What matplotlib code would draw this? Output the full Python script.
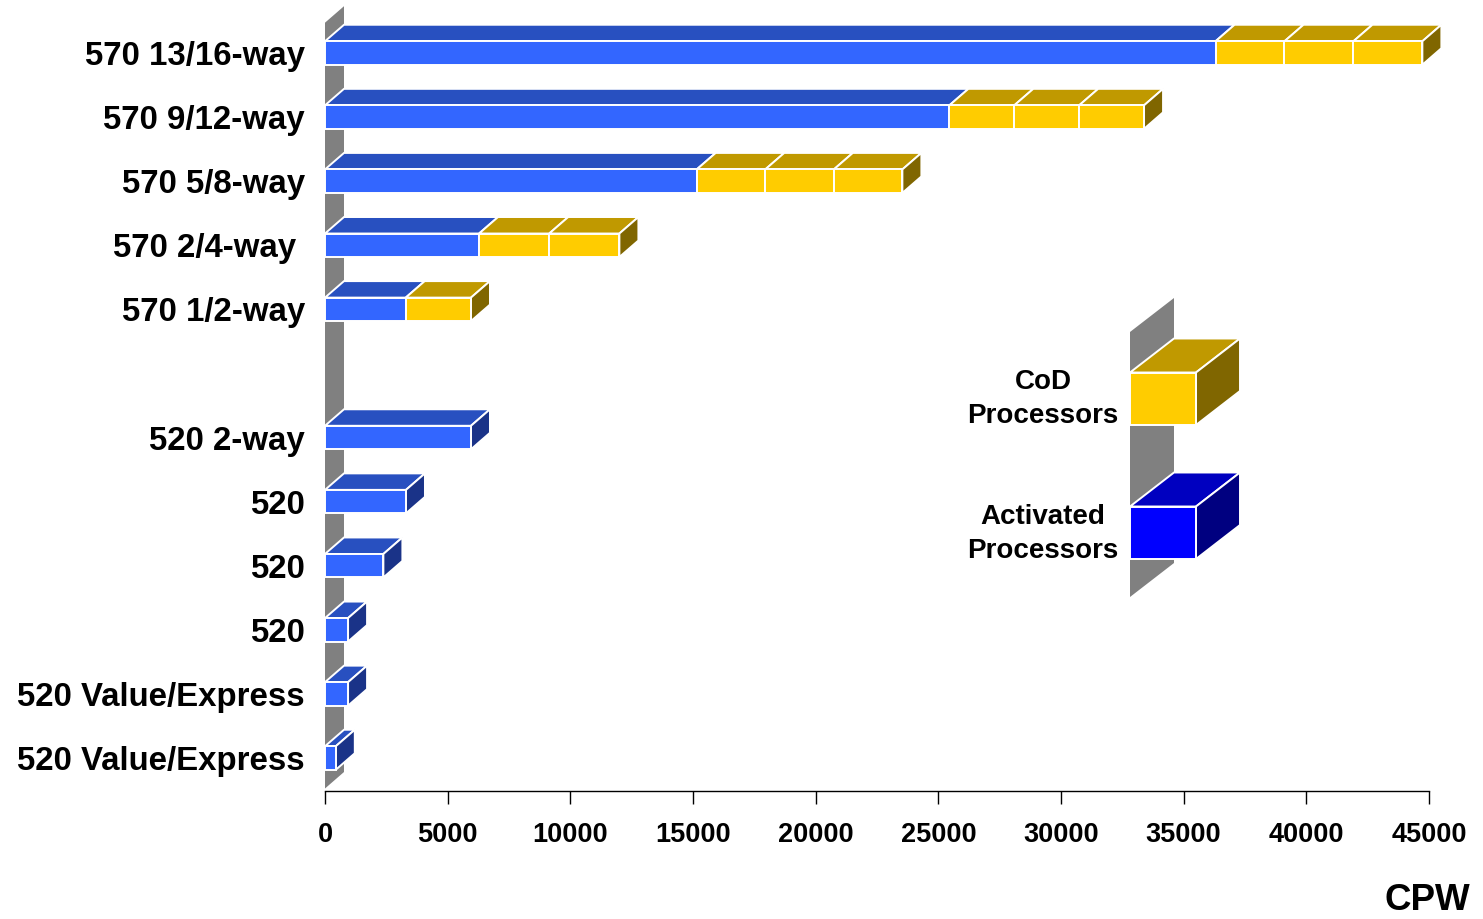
import matplotlib
matplotlib.use("Agg")
import matplotlib.pyplot as plt
from matplotlib.patches import Polygon

plt.rcParams['font.family'] = ['Liberation Sans', 'DejaVu Sans']
plt.rcParams['font.weight'] = 'bold'

# ---- data -------------------------------------------------------------
categories = ["570 13/16-way", "570 9/12-way", "570 5/8-way", "570 2/4-way ",
              "570 1/2-way", "520 2-way", "520", "520", "520",
              "520 Value/Express", "520 Value/Express"]
row_pos = [0, 1, 2, 3, 4, 6, 7, 8, 9, 10, 11]
activated_cpw = [36300, 25450, 15150, 6280, 3290, 5950, 3300, 2380, 940, 940, 440]
cod_procs = [3, 3, 3, 2, 1, 0, 0, 0, 0, 0, 0]
cod_cpw_per_proc = [2810, 2645, 2795, 2860, 2660, 0, 0, 0, 0, 0, 0]
x_ticks = [0, 5000, 10000, 15000, 20000, 25000, 30000, 35000, 40000, 45000]

# ---- styling ----------------------------------------------------------
BLUE = ("#3366FF", "#2850C0", "#1A3388")      # front, top, side
GOLD = ("#FFCC00", "#C09900", "#806600")
LEG_BLUE = ("#0000FF", "#0000C0", "#000080")
WALL = "#808080"
EDGE = "white"
LW = 1.4

W, H = 1483, 919
fig = plt.figure(figsize=(W / 100, H / 100), dpi=100)
fig.patch.set_facecolor("white")

ax_left, ax_right, ax_bottom = 325, 1429, 790.7
ax = fig.add_axes([ax_left / W, (H - ax_bottom) / H,
                   (ax_right - ax_left) / W, ax_bottom / H])
ax.set_xlim(0, 45000)
row_px = 64.09
ax.set_ylim((ax_bottom - 53) / row_px, -53 / row_px)

# depth of the pseudo-3D extrusion, in data units
px_per_x = (ax_right - ax_left) / 45000
DX = 19 / px_per_x
DY = 16.5 / row_px
BAR_H = 23.5 / row_px


def top_face(x0, x1, yt, color):
    return Polygon([(x0, yt), (x1, yt), (x1 + DX, yt - DY), (x0 + DX, yt - DY)],
                   closed=True, facecolor=color, edgecolor=EDGE, lw=LW,
                   joinstyle="miter", zorder=3, clip_on=False)


def side_face(x1, yt, yb, color):
    return Polygon([(x1, yt), (x1 + DX, yt - DY), (x1 + DX, yb - DY), (x1, yb)],
                   closed=True, facecolor=color, edgecolor=EDGE, lw=LW,
                   joinstyle="miter", zorder=3, clip_on=False)


def front_face(x0, x1, yt, yb, color):
    return Polygon([(x0, yt), (x1, yt), (x1, yb), (x0, yb)],
                   closed=True, facecolor=color, edgecolor=EDGE, lw=LW,
                   joinstyle="miter", zorder=4, clip_on=False)


# back wall along the value axis origin
wall_top = (22.7 - 53) / row_px
wall_bot = (788.5 - 53) / row_px
ax.add_patch(Polygon([(0, wall_bot), (0, wall_top), (DX, wall_top - DY),
                      (DX, wall_bot - DY)], closed=True, facecolor=WALL,
                     edgecolor="none", zorder=1, clip_on=False))

for y, act, n, per in zip(row_pos, activated_cpw, cod_procs, cod_cpw_per_proc):
    yt, yb = y - BAR_H / 2, y + BAR_H / 2
    segs = [(0, act, BLUE)]
    start = act
    for _ in range(n):
        segs.append((start, start + per, GOLD))
        start += per
    for x0, x1, c in segs:
        ax.add_patch(top_face(x0, x1, yt, c[1]))
        ax.add_patch(front_face(x0, x1, yt, yb, c[0]))
    x_end, c_end = segs[-1][1], segs[-1][2]
    ax.add_patch(side_face(x_end, yt, yb, c_end[2]))

# axes decoration
for s in ("top", "right", "left"):
    ax.spines[s].set_visible(False)
ax.spines["bottom"].set_linewidth(1.0)
ax.set_facecolor("none")
ax.set_xticks(x_ticks)
ax.set_xticklabels([str(t) for t in x_ticks], fontsize=19.5, fontweight="bold")
ax.tick_params(axis="x", direction="out", length=9, width=1.0, pad=13.5)
ax.set_yticks(row_pos)
ax.set_yticklabels(categories, fontsize=23.8, fontweight="bold")
ax.tick_params(axis="y", length=0, pad=14.4)

fig.text(1470 / W, 1 - 900 / H, "CPW", ha="right", va="center",
         fontsize=26.5, fontweight="bold")

# ---- legend (pixel coordinates overlay) -------------------------------
lax = fig.add_axes([0, 0, 1, 1], zorder=5)
lax.set_xlim(0, W)
lax.set_ylim(H, 0)
lax.axis("off")
ldx, ldy = 44, 34
lax.add_patch(Polygon([(1130, 597), (1130, 332), (1130 + ldx, 332 - ldy),
                       (1130 + ldx, 597 - ldy)], closed=True,
                      facecolor=WALL, edgecolor="none"))


def legend_cube(y0, y1, cols):
    x0, x1 = 1130, 1196
    lax.add_patch(Polygon([(x0, y0), (x1, y0), (x1 + ldx, y0 - ldy), (x0 + ldx, y0 - ldy)],
                          closed=True, facecolor=cols[1], edgecolor=EDGE, lw=LW))
    lax.add_patch(Polygon([(x1, y0), (x1 + ldx, y0 - ldy), (x1 + ldx, y1 - ldy), (x1, y1)],
                          closed=True, facecolor=cols[2], edgecolor=EDGE, lw=LW))
    lax.add_patch(Polygon([(x0, y0), (x1, y0), (x1, y1), (x0, y1)],
                          closed=True, facecolor=cols[0], edgecolor=EDGE, lw=LW))


legend_cube(372.5, 425, GOLD)
legend_cube(506.5, 559, LEG_BLUE)
lax.text(1043, 399, "CoD\nProcessors", ha="center", va="center",
         fontsize=20, fontweight="bold", linespacing=1.4)
lax.text(1043, 534, "Activated\nProcessors", ha="center", va="center",
         fontsize=20, fontweight="bold", linespacing=1.4)

fig.savefig("out.png", dpi=100, facecolor="white")
